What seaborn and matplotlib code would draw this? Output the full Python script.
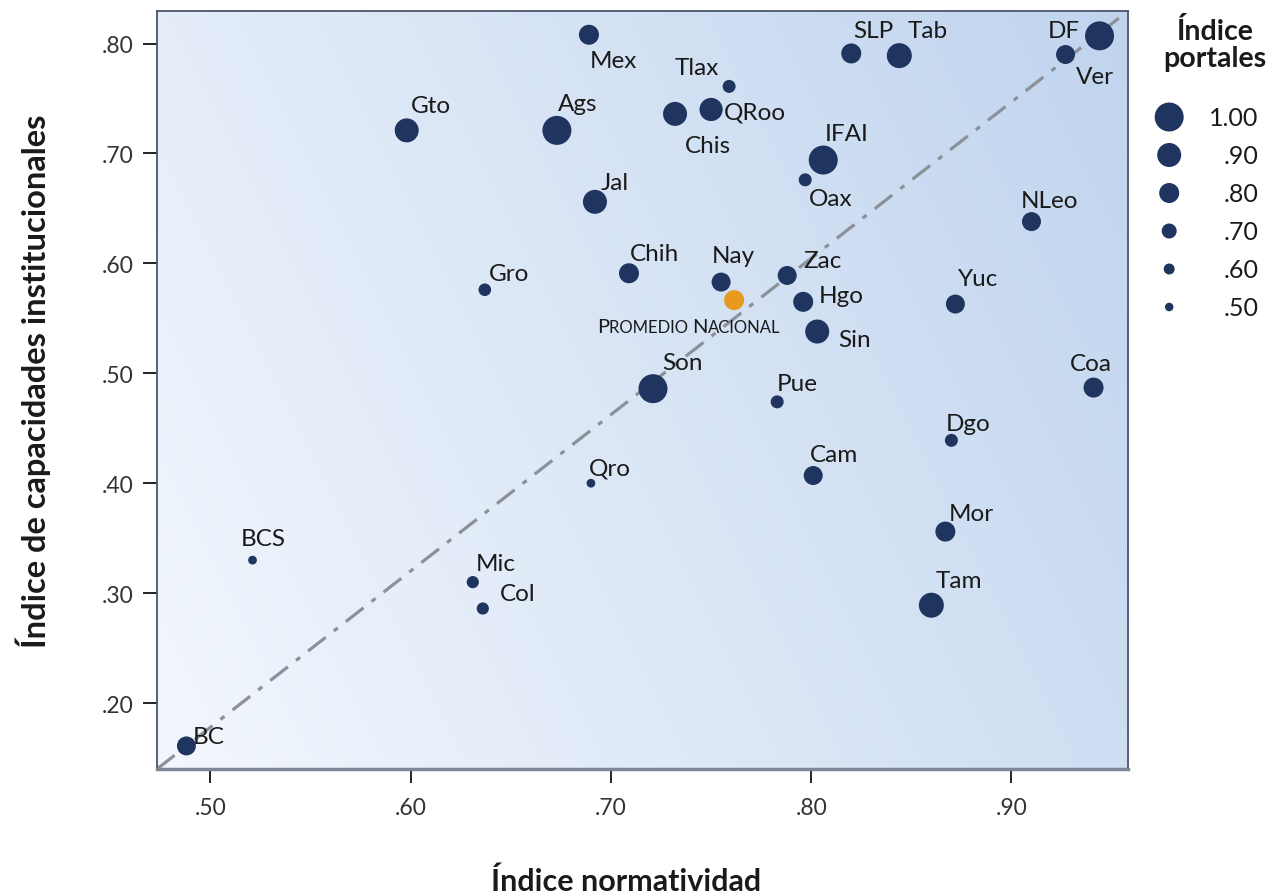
import numpy as np
import pandas as pd
import seaborn as sns
import matplotlib.pyplot as plt
from matplotlib.offsetbox import TextArea, HPacker, AnnotationBbox

# --- datos ---
estados = ["BC", "BCS", "Mic", "Col", "Gto", "Ags", "Mex", "Jal", "Gro", "Chih",
           "Qro", "Son", "Chis", "QRoo", "Tlax", "Nay", "Zac", "Hgo", "Sin", "Pue",
           "Cam", "IFAI", "Oax", "SLP", "Tab", "DF", "Ver", "NLeo", "Yuc", "Coa",
           "Dgo", "Mor", "Tam"]
normatividad = [0.488, 0.521, 0.631, 0.636, 0.598, 0.673, 0.689, 0.692, 0.637, 0.709,
                0.690, 0.721, 0.732, 0.750, 0.759, 0.755, 0.788, 0.796, 0.803, 0.783,
                0.801, 0.806, 0.797, 0.820, 0.844, 0.944, 0.927, 0.910, 0.872, 0.941,
                0.870, 0.867, 0.860]
capacidades = [0.161, 0.330, 0.310, 0.286, 0.721, 0.721, 0.808, 0.656, 0.576, 0.591,
               0.400, 0.486, 0.736, 0.740, 0.761, 0.583, 0.589, 0.565, 0.538, 0.474,
               0.407, 0.694, 0.676, 0.791, 0.789, 0.807, 0.790, 0.638, 0.563, 0.487,
               0.439, 0.356, 0.289]
portales = [0.78, 0.51, 0.63, 0.63, 0.90, 1.00, 0.80, 0.90, 0.64, 0.80,
            0.51, 1.00, 0.90, 0.88, 0.65, 0.78, 0.78, 0.80, 0.90, 0.65,
            0.78, 1.00, 0.65, 0.80, 0.92, 1.00, 0.78, 0.78, 0.78, 0.80,
            0.65, 0.80, 0.92]

promedio_nombre = "Promedio Nacional"
promedio_norm = 0.7615
promedio_cap = 0.5666
promedio_portal = 0.80

leyenda_niveles = [1.00, 0.90, 0.80, 0.70, 0.60, 0.50]
leyenda_etiquetas = ["1.00", ".90", ".80", ".70", ".60", ".50"]

# --- estilo ---
NAVY = "#1f3560"
ORANGE = "#e89a1e"
TXT = "#1a1a1a"
LEG_DIAM_PX = [29, 24, 20, 15, 11, 8.5]   # diámetro del círculo de cada nivel
PX2PT = 0.72
W, H = 1279, 895

# posición de cada etiqueta respecto a su punto (pixeles)
label_offsets = {
    "BC": (6, 3), "BCS": (-12, 15), "Mic": (3, 12), "Col": (17, 9), "Gto": (4, 18),
    "Ags": (1, 20), "Mex": (1, -32), "Jal": (6, 13), "Gro": (4, 10), "Chih": (1, 13),
    "Qro": (-2, 9), "Son": (9, 20), "Chis": (10, -38), "QRoo": (13, -9), "Tlax": (-54, 12),
    "Nay": (-9, 20), "Zac": (16, 8), "Hgo": (16, 0), "Sin": (21, -14), "Pue": (0, 12),
    "Cam": (-3, 15), "IFAI": (2, 20), "Oax": (4, -25), "SLP": (2, 16), "Tab": (8, 19),
    "DF": (-52, -1), "Ver": (10, -28), "NLeo": (-11, 15), "Yuc": (3, 19), "Coa": (-24, 18),
    "Dgo": (-6, 10), "Mor": (3, 12), "Tam": (4, 18),
}

sns.set_theme(style="white")
plt.rcParams["font.family"] = ["Lato", "DejaVu Sans"]


def diam_px(p):
    return np.interp(p, leyenda_niveles[::-1], LEG_DIAM_PX[::-1])


df = pd.DataFrame({
    "nombre": estados + [promedio_nombre],
    "normatividad": normatividad + [promedio_norm],
    "capacidades": capacidades + [promedio_cap],
    "portales": portales + [promedio_portal],
    "tipo": ["estado"] * len(estados) + ["promedio"],
})
size_map = {p: (diam_px(p) * PX2PT) ** 2 for p in df["portales"].unique()}

fig = plt.figure(figsize=(W / 100, H / 100), dpi=100)
ax = fig.add_axes([157 / W, 1 - 770 / H, (1128 - 157) / W, (770 - 12) / H])

# fondo degradado
gx, gy = np.meshgrid(np.linspace(0, 1, 300), np.linspace(0, 1, 300))
t = 0.72 * gx + 0.28 * gy
c0 = np.array([243, 247, 253]) / 255
c1 = np.array([192, 212, 238]) / 255
grad = c0[None, None, :] * (1 - t[..., None]) + c1[None, None, :] * t[..., None]
ax.imshow(grad, extent=[0, 1, 0, 1], transform=ax.transAxes, origin="lower",
          aspect="auto", zorder=0, interpolation="bilinear")

# línea de referencia diagonal
ax.plot([0, 1], [0, 1], transform=ax.transAxes, color="#8b9099", lw=2.3,
        dashes=(7, 3.2, 1.6, 3.2), zorder=1)

sns.scatterplot(data=df, x="normatividad", y="capacidades", hue="tipo",
                palette={"estado": NAVY, "promedio": ORANGE},
                size="portales", sizes=size_map, legend=False,
                linewidth=0, alpha=1, ax=ax, zorder=3)

# etiquetas
for nom, x, y in zip(estados, normatividad, capacidades):
    dx, dy = label_offsets[nom]
    ax.annotate(nom, (x, y), xytext=(dx, dy), textcoords="offset pixels",
                ha="left", va="baseline", fontsize=17.5, color=TXT, zorder=4)

# "Promedio Nacional" en versalitas
partes = []
for i, palabra in enumerate(promedio_nombre.split()):
    sep = " " if i == 0 else ""
    partes.append(TextArea(palabra[0].upper(), textprops=dict(fontsize=14.5, color=TXT)))
    partes.append(TextArea(palabra[1:].upper() + sep, textprops=dict(fontsize=12, color=TXT)))
caja = HPacker(children=partes, align="baseline", pad=0, sep=0)
ab = AnnotationBbox(caja, (promedio_norm, promedio_cap), xybox=(-137, -33),
                    boxcoords="offset pixels", frameon=False, box_alignment=(0, 0.12))
ax.add_artist(ab)

ax.set_xlim(0.4733, 0.9582)
ax.set_ylim(0.140, 0.8296)
ax.set_xticks([0.5, 0.6, 0.7, 0.8, 0.9])
ax.set_yticks([0.2, 0.3, 0.4, 0.5, 0.6, 0.7, 0.8])
ax.set_xticklabels([f"{v:.2f}"[1:] for v in ax.get_xticks()])
ax.set_yticklabels([f"{v:.2f}"[1:] for v in ax.get_yticks()])
ax.tick_params(axis="both", direction="out", length=10, width=1.4, color="#222222",
               labelsize=16.5, labelcolor="#333333", pad=7, bottom=True, left=True)
ax.tick_params(axis="x", pad=10)
for s in ax.spines.values():
    s.set_color("#4a5568")
    s.set_linewidth(1.3)
ax.spines["bottom"].set_color("#7d8796")
ax.spines["bottom"].set_linewidth(2.5)
ax.set_xlabel("")
ax.set_ylabel("")

fig.text(626 / W, 1 - 891 / H, "Índice normatividad", ha="center", va="baseline",
         fontsize=22, fontweight="bold", color=TXT)
fig.text(33 / W, 1 - 381 / H, "Índice de capacidades institucionales", ha="center",
         va="center", rotation=90, fontsize=23.5, fontweight="bold", color=TXT)

# leyenda de tamaños (círculos en su propio eje)
lax = fig.add_axes([1140 / W, 1 - 327 / H, 139 / W, 228 / H])
lax.set_xlim(0, 1)
lax.set_ylim(0.45, 1.05)
lax.axis("off")
ley = pd.DataFrame({"nivel": leyenda_niveles, "etiqueta": leyenda_etiquetas})
sns.scatterplot(data=ley, x=np.full(len(ley), 0.21), y="nivel", size="nivel",
                sizes={p: (diam_px(p) * PX2PT) ** 2 for p in leyenda_niveles},
                color=NAVY, linewidth=0, legend=False, ax=lax)
for nivel, etiqueta in zip(ley["nivel"], ley["etiqueta"]):
    lax.text(0.85, nivel, etiqueta, ha="right", va="center", fontsize=18, color=TXT)
fig.text(1215 / W, 1 - 18 / H, "Índice\nportales", ha="center", va="top",
         fontsize=20.5, fontweight="bold", color=TXT, linespacing=1.05)

fig.savefig("out.png", dpi=100)
